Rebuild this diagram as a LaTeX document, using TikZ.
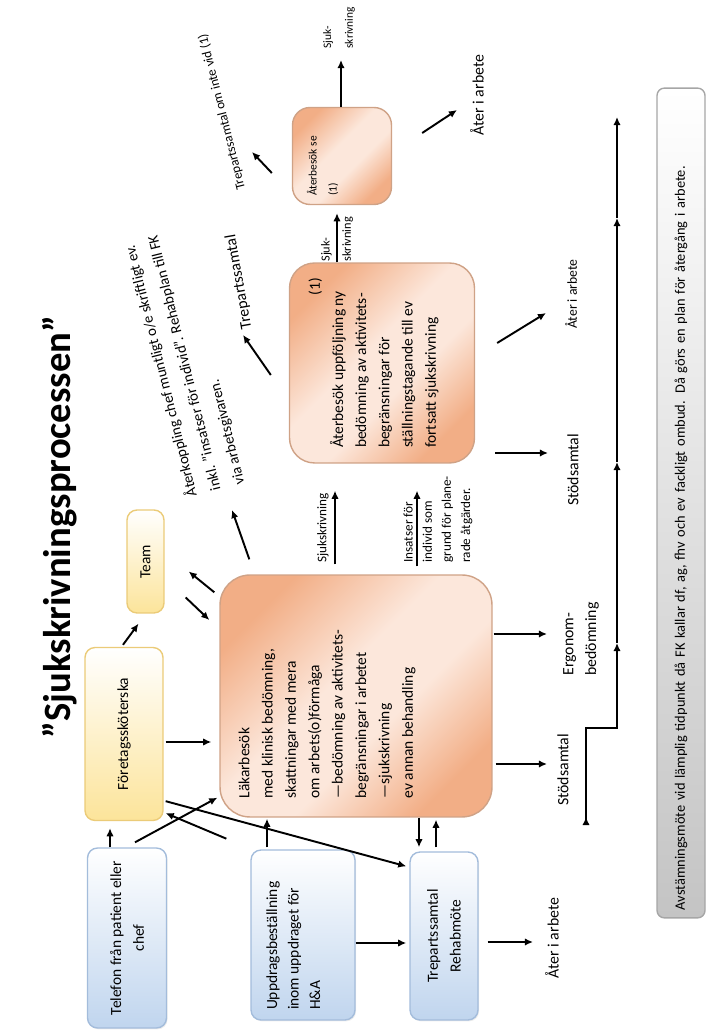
\documentclass[tikz,border=0pt]{standalone}
\usepackage{fontspec}
\setmainfont{Carlito}
\usetikzlibrary{arrows.meta,calc,shadows}
\definecolor{blueedge}{HTML}{A3BCDB}
\definecolor{bluefill}{HTML}{C0D5EE}
\definecolor{yellowedge}{HTML}{EBCB78}
\definecolor{yellowfill}{HTML}{FCE49A}
\definecolor{orangeedge}{HTML}{CFA286}
\definecolor{orangefill}{HTML}{F2AE86}
\definecolor{orangelight}{HTML}{FCE7DB}
\definecolor{baredge}{HTML}{A6A6A6}
\definecolor{barfill}{HTML}{C4C4C4}
\pgfdeclarehorizontalshading{peachband}{100bp}{color(0bp)=(orangefill); color(25bp)=(orangefill); color(45bp)=(orangelight); color(58bp)=(orangelight); color(75bp)=(orangefill); color(100bp)=(orangefill)}

\begin{document}
\begin{tikzpicture}[x=0.02cm,y=0.02cm,
  arr/.style={-{Latex[length=4.6pt,width=4.2pt]}, line width=1.1pt},
  box/.style={draw, line width=0.8pt, inner sep=0pt, align=center, font=\fontsize{8.8}{13}\selectfont},
  bluebox/.style={box, draw=blueedge, top color=white, bottom color=bluefill, rounded corners=0.2cm,
    drop shadow={opacity=0.15, shadow xshift=0.6pt, shadow yshift=-0.8pt}},
  yellowbox/.style={box, draw=yellowedge, top color=white, bottom color=yellowfill, rounded corners=0.2cm},
  orangebox/.style={box, draw=orangeedge, shading=peachband, shading angle=-45},
  barbox/.style={draw=baredge, line width=0.8pt, top color=white, bottom color=barfill, rounded corners=0.15cm,
    minimum width=16.6cm, minimum height=0.96cm, text width=16.3cm, align=left, inner xsep=0.15cm,
    font=\fontsize{8.2}{10}\selectfont},
  titletext/.style={font=\fontsize{22}{26}\selectfont\bfseries, inner sep=0pt},
  lbl/.style={font=\fontsize{9}{13}\selectfont, inner sep=0pt},
  smalllbl/.style={font=\fontsize{7.5}{10.9}\selectfont, inner sep=0pt}]
\useasboundingbox (0,0) rectangle (717,1034);
\begin{scope}[shift={(717,0)}, rotate=90, transform shape]
% title
\node[titletext] (title) at (507,657) {”Sjukskrivningsprocessen”};
% boxes
\node[bluebox, minimum width=3.6cm, minimum height=1.58cm] (tel) at (96,590) {Telefon från patient eller\\chef};
\node[yellowbox, minimum width=3.46cm, minimum height=1.56cm] (foret) at (300,593) {Företagssköterska};
\node[yellowbox, minimum width=2.06cm, minimum height=0.74cm] (team) at (472.5,571.5) {Team};
\node[bluebox, minimum width=3.4cm, minimum height=2.08cm] (uppd) at (99,414)
  {\parbox[c][1.46cm][t]{3.0cm}{\fontsize{8.8}{12.2}\selectfont\raggedright Uppdragsbeställning\\inom uppdraget för\\H\&A}};
\node[orangebox, rounded corners=0.6cm, minimum width=4.84cm, minimum height=5.44cm] (lak) at (338,361)
  {\parbox[c][4.7cm][t]{4.1cm}{\fontsize{8.8}{13.3}\selectfont\raggedright Läkarbesök\\med klinisk bedömning,\\skattningar med mera\\om arbets(o)förmåga\\—bedömning av aktivitets-\\begränsningar i arbetet\\—sjukskrivning\\ev annan behandling}};
\node[bluebox, minimum width=3.36cm, minimum height=1.36cm] (trep) at (98,273) {Trepartssamtal\\Rehabmöte};
\node[orangebox, rounded corners=0.5cm, minimum width=4.0cm, minimum height=3.7cm] (aterb) at (671,335)
  {\parbox[c][2.94cm][t]{3.4cm}{\fontsize{8.8}{13.2}\selectfont\raggedright\hspace*{0pt plus 1filll}(1)\\Återbesök uppföljning ny\\bedömning av aktivitets-\\begränsningar för\\ställningstagande till ev\\fortsatt sjukskrivning}};
\node[orangebox, rounded corners=0.35cm, minimum width=1.94cm, minimum height=1.98cm] (ase) at (878,375)
  {\parbox[c][1.4cm][t]{1.6cm}{\fontsize{6.5}{11.3}\selectfont\raggedright Återbesök se\\(1)}};
\node[barbox] (avst) at (531,36) {Avstämningsmöte vid lämplig tidpunkt då FK kallar df, ag, fhv och ev fackligt ombud. Då görs en plan för återgång i arbete.};
% labels
\node[lbl] (ater1) at (96,165) {Åter i arbete};
\node[lbl] (stod1) at (264,154) {Stödsamtal};
\node[lbl, align=left] (ergo) at (395,136) {Ergonom-\\bedömning};
\node[lbl] (stod2) at (564,144) {Stödsamtal};
\node[lbl, font=\fontsize{7.8}{10}\selectfont] (ater2) at (740,146) {Åter i arbete};
\node[lbl] (ater3) at (939,240) {Åter i arbete};
\node[smalllbl] (sjuk1) at (506,394) {Sjukskrivning};
\node[smalllbl, align=left, anchor=west] (insats) at (471,279) {Insatser för\\individ som\\grund för plane-\\rade åtgärder.};
\node[smalllbl, align=left, anchor=west, font=\fontsize{7}{12}\selectfont] (sjuk2) at (772,380) {Sjuk-\\skrivning};
\node[smalllbl, align=left, anchor=west, font=\fontsize{6.5}{12.4}\selectfont] (sjuk3) at (985,378) {Sjuk-\\skrivning};
\node[lbl, rotate=10] (trep2) at (752,478) {Trepartssamtal};
\node[smalllbl, rotate=14] (trep3) at (922,495) {Trepartssamtal om inte vid (1)};
\node[lbl, rotate=14, align=left, font=\fontsize{8.5}{14}\selectfont] (aterk) at (671,533)
  {Återkoppling chef muntligt o/e skriftligt ev.\\inkl. ”insatser för individ”. Rehabplan till FK\\via arbetsgivaren.};
% connectors
\draw[arr] ($(tel.east)+(0,17)$) -- ($(foret.west)+(-7,14)$);
\draw[arr] ($(tel.east)+(5,-8)$) -- ($(lak.north west)+(20,2)$);
\draw[arr] ($(lak.north west)+(-21,-7)$) -- ($(foret.south west)+(8,-2)$);
\draw[arr] ($(foret.south west)+(20,-2)$) -- ($(trep.north east)+(-15,3)$);
\draw[arr] ($(foret.south)+(-8,-2)$) -- ($(lak.north)+(-46,8)$);
\draw[arr] ($(foret.east)+(2,1)$) -- ($(team.west)+(-10,7)$);
\draw[arr] ($(lak.north east)+(-18,5)$) -- ($(team.south)+(-10,-24)$);
\draw[arr] ($(team.south)+(-36,-21)$) -- ($(lak.north)+(76,10)$);
\draw[arr] ($(lak.north east)+(15,-30)$) -- ($(aterk)+(-147,-48)$);
\draw[arr] ($(lak.east)+(10,21)$) -- ($(aterb.west)+(-27,47)$);
\draw[arr] ($(lak.east)+(8,-61)$) -- ($(aterb.west)+(-27,-35)$);
\draw[arr] ($(lak.south)+(-68,-3)$) -- ($(stod1)+(6,16)$);
\draw[arr] ($(lak.south)+(62,-1)$) -- ($(ergo)+(5,34)$);
\draw[arr] ($(trep.south)+(-6,-9)$) -- ($(ater1)+(-4,19)$);
\draw[arr] ($(uppd.south)+(-8,0)$) -- ($(trep.north)+(-7,3)$);
\draw[arr] ($(uppd.east)+(2,36)$) -- ($(lak.west)+(-1,89)$);
\draw[arr] ($(lak.west)+(0,-63)$) -- ($(trep.east)+(4,25)$);
\draw[arr] ($(trep.east)+(4,8)$) -- ($(lak.west)+(-2,-80)$);
\draw[arr] ($(aterb.east)+(0,45)$) -- ($(ase.west)+(-8,5)$);
\draw[arr] ($(ase.east)+(0,1)$) -- ($(sjuk3.west)+(-11,-2)$);
\draw[arr] ($(aterb.north)+(-12,18)$) -- ($(trep2)+(-53,-4)$);
\draw[arr] ($(ase.north)+(-17,20)$) -- ($(trep3)+(-40,-30)$);
\draw[arr] ($(aterb.south)+(-90,-20)$) -- ($(stod2)+(17,25)$);
\draw[arr] ($(aterb.south)+(20,-22)$) -- ($(ater2)+(-19,25)$);
\draw[arr] ($(ase.south)+(23,-30)$) -- ($(ater3)+(-15,20)$);
% stepped time line
\coordinate (tl0) at (211,131);
\coordinate (tl1) at (306,131);
\coordinate (tl2) at (306,100);
\coordinate (tl3) at (391,100);
\coordinate (tl4) at (572,100);
\coordinate (tl5) at (816,100);
\coordinate (tl6) at (917,100);
\draw[arr] (tl0) -- ++(6,0);
\draw[arr] (tl0) -- (tl1) -- (tl2) -- (tl3);
\draw[arr] (tl3) -- (tl4);
\draw[arr] (tl4) -- (tl5);
\draw[arr] (tl5) -- (tl6);
\end{scope}
\end{tikzpicture}
\end{document}
